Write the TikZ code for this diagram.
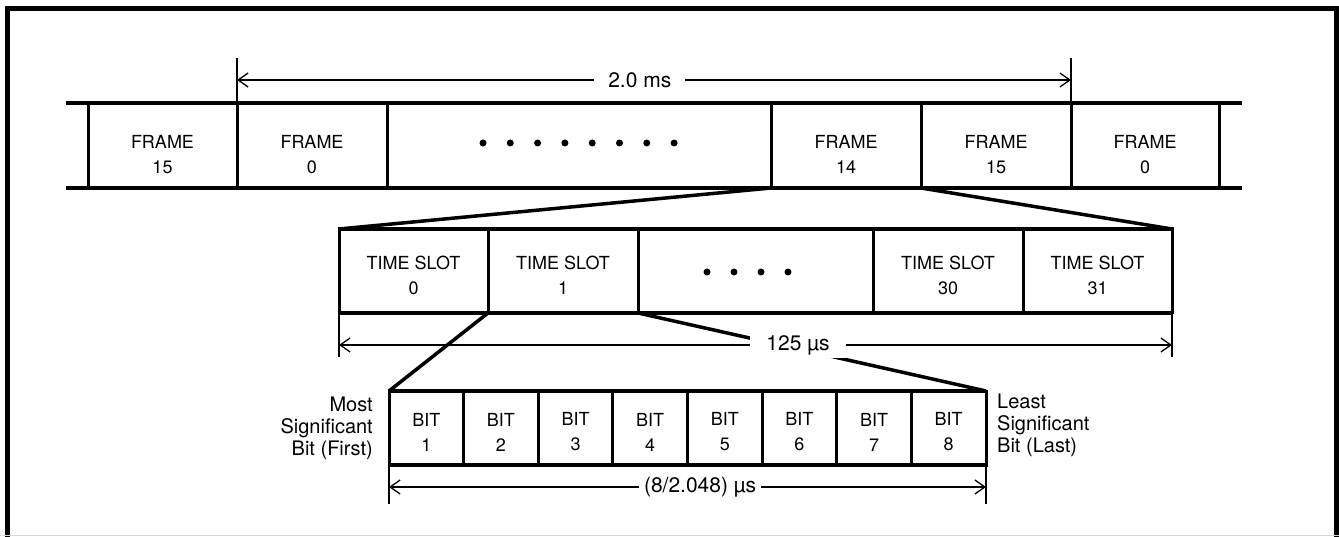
\documentclass[tikz,border=0pt]{standalone}
\usepackage{fontspec}
\setmainfont{TeX Gyre Heros}
\usepackage{tikz}
\usetikzlibrary{positioning, arrows.meta}
\newcommand\cellfont{\fontsize{18}{25}\selectfont}
\newcommand\dimfont{\fontsize{21}{24}\selectfont}
\newcommand\sidefont{\fontsize{20}{22}\selectfont}

\begin{document}
\begin{tikzpicture}[x=1pt, y=-1pt,
                cell/.style={draw, line width=3pt, outer sep=0pt, inner sep=0pt, align=center, font=\cellfont, minimum width=#1},
                frm/.style={cell=#1, minimum height=85pt, text height=56pt},
                slot/.style={cell=#1, minimum height=84pt, text height=48pt},
                bit/.style={cell=74.625pt, minimum height=74pt, text height=46pt},
                dot/.style={circle, fill, inner sep=0pt, minimum size=7pt},
                rail/.style={line width=4pt},
                fan/.style={line width=3.5pt},
                tick/.style={line width=1.3pt},
                dim/.style={line width=1.3pt, {Straight Barb[length=10pt,width=14pt]}-{Straight Barb[length=10pt,width=14pt]}},
                dimlabel/.style={fill=white, font=\dimfont, inner xsep=#1, inner ysep=3pt},
                dimlabel/.default=8pt]
                \useasboundingbox (0,0) rectangle (1339,537);
                \draw[line width=5pt] (7.5,537) -- (7.5,8.5) -- (1336.5,8.5) -- (1336.5,537);
                \draw[black!15, line width=1pt] (0,535.5) -- (1339,535.5);

                \node[frm=149pt, anchor=west] (f15a) at (88,145.5) {FRAME\\15};
                \node[frm=150pt, right=0pt of f15a] (f0a) {FRAME\\0};
                \node[frm=384pt, right=0pt of f0a] (fdots) {};
                \node[frm=150pt, right=0pt of fdots] (f14) {FRAME\\14};
                \node[frm=150pt, right=0pt of f14] (f15b) {FRAME\\15};
                \node[frm=148pt, right=0pt of f15b] (f0b) {FRAME\\0};
                \draw[rail] ([xshift=-22pt]f15a.north west) -- ([xshift=23pt]f0b.north east);
                \draw[rail] ([xshift=-22pt]f15a.south west) -- ([xshift=23pt]f0b.south east);
                \foreach \i in {0,...,7}{
                  \node[dot] (fd\i) at ([xshift=-96pt+27.3pt*\i, yshift=2.5pt]fdots.center) {};
                }

                \node[slot=149pt, anchor=west] (t0) at (339,271) {TIME SLOT\\0};
                \node[slot=150pt, right=0pt of t0] (t1) {TIME SLOT\\1};
                \node[slot=235pt, right=0pt of t1] (tdots) {};
                \node[slot=150pt, right=0pt of tdots] (t30) {TIME SLOT\\30};
                \node[slot=149pt, right=0pt of t30] (t31) {TIME SLOT\\31};
                \draw[rail] (t0.north west) -- (t31.north east);
                \draw[rail] (t0.south west) -- (t31.south east);
                \foreach \i in {0,...,3}{
                  \node[dot] (td\i) at ([xshift=-48.5pt+27pt*\i, yshift=-1pt]tdots.center) {};
                }

                \foreach \b in {1,...,8}{
                  \node[bit, anchor=west] (b\b) at ({389+74.625*(\b-1)},428) {BIT\\\b};
                }
                \draw[rail] (b1.north west) -- (b8.north east);
                \draw[rail] (b1.south west) -- (b8.south east);
                \node[font=\sidefont, align=right, inner sep=0pt, left=16pt of b1] (msb) {Most\\Significant\\Bit (First)};
                \node[font=\sidefont, align=left, inner sep=0pt, right=11pt of b8, yshift=3pt] (lsb) {Least\\Significant\\Bit (Last)};

                \draw[fan] (f14.south west) -- (t0.north west);
                \draw[fan] (f14.south east) -- (t31.north east);
                \draw[fan] (t1.south west) -- (b1.north west);
                \draw[fan] (t1.south east) -- (b8.north east);

                \coordinate (msL) at ([yshift=45pt]f0a.north west);
                \coordinate (msR) at ([yshift=45pt]f0b.north west);
                \draw[tick] (f0a.north west) -- (msL);
                \draw[tick] (f0b.north west) -- (msR);
                \draw[dim] ([yshift=-22pt]msL) -- ([yshift=-22pt]msR) node[dimlabel=14pt, pos=0.483] (ms) {2.0 ms};

                \coordinate (slotL) at ([yshift=-44pt]t0.south west);
                \coordinate (slotR) at ([yshift=-44pt]t31.south east);
                \draw[tick] (t0.south west) -- (slotL);
                \draw[tick] (t31.south east) -- (slotR);
                \draw[dim] ([yshift=12pt]slotL) -- ([yshift=12pt]slotR) node[dimlabel=16pt, pos=0.551] (us) {125 µs};

                \coordinate (bitL) at ([yshift=-39pt]b1.south west);
                \coordinate (bitR) at ([yshift=-39pt]b8.south east);
                \draw[tick] (b1.south west) -- (bitL);
                \draw[tick] (b8.south east) -- (bitR);
                \draw[dim] ([yshift=17pt]bitL) -- ([yshift=17pt]bitR) node[dimlabel=5pt, pos=0.521] (bus) {(8/2.048) µs};
            \end{tikzpicture}
\end{document}
